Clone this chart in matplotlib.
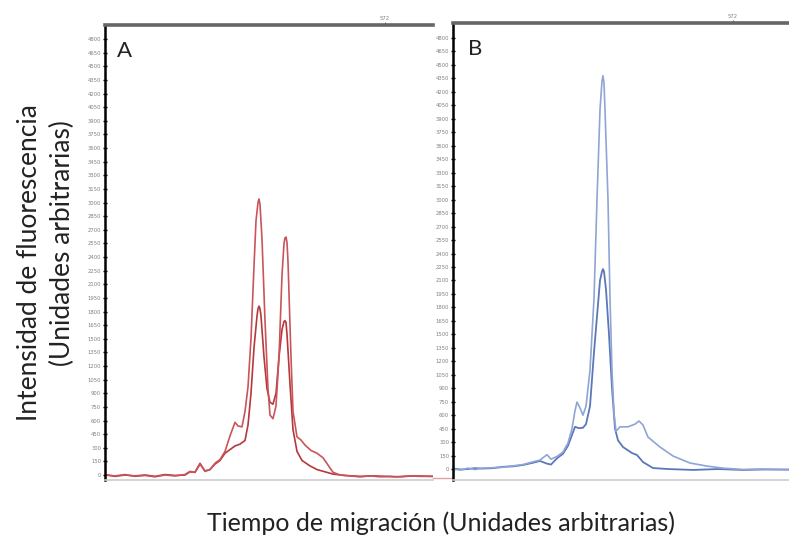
import numpy as np
import matplotlib
matplotlib.use('Agg')
import matplotlib.pyplot as plt

# Panel A (red) - migration time (arbitrary units) and fluorescence intensity
a_tall_t = [0, 10, 20, 30, 40, 50, 60, 70, 80, 85, 90, 95, 100, 105, 110, 115, 120,
            125, 130, 133, 137, 140, 143, 146, 149, 151, 153, 154, 155, 157, 160, 163, 165,
            168, 171, 174, 177, 179, 180, 181, 182, 183, 186, 188, 192, 196, 200, 206, 212,
            218, 223, 228, 235, 245, 255, 265, 275, 285, 295, 305, 315, 328]
a_tall_y = [0, -10, 5, -15, -5, -20, 0, -10, 5, 40, 30, 130, 40, 60, 130, 170, 260,
            430, 580, 540, 530, 700, 970, 1500, 2300, 2800, 3000, 3040, 2980, 2600, 1700, 950, 660,
            620, 760, 1300, 2200, 2550, 2610, 2620, 2560, 2350, 1300, 700, 420, 385, 330, 270, 240,
            190, 110, 30, 0, -10, -20, -10, -20, -15, -20, -10, -15, -15]

a_short_t = [0, 10, 20, 30, 40, 50, 60, 70, 80, 85, 90, 95, 100, 105, 110, 115, 120,
             125, 130, 135, 140, 143, 146, 149, 152, 153, 154, 155, 156, 159, 162, 165, 168,
             171, 174, 177, 179, 180, 181, 182, 185, 188, 192, 197, 205, 212, 220, 228, 240,
             255, 270, 290, 310, 328]
a_short_y = [5, -15, 0, -10, 0, -15, 5, -5, 0, 35, 30, 120, 45, 60, 120, 160, 240,
             280, 320, 340, 380, 550, 900, 1400, 1750, 1830, 1860, 1830, 1750, 1300, 950, 800, 780,
             900, 1300, 1600, 1690, 1700, 1680, 1550, 1000, 500, 260, 160, 100, 60, 35, 10, -5,
             -15, -10, -20, -10, -15]

# Panel B (blue)
b_tall_t = [0, 8, 15, 22, 30, 40, 50, 60, 70, 80, 87, 94, 98, 104, 110, 115, 119,
            122, 124, 127, 130, 133, 137, 141, 144, 147, 149, 150, 151, 152, 155, 157, 159,
            161, 163, 167, 175, 182, 186, 190, 195, 207, 220, 237, 254, 270, 290,
            310, 336]
b_tall_y = [0, -10, 10, -5, 10, 15, 20, 35, 50, 80, 100, 160, 110, 140, 190, 290, 450,
            650, 746, 680, 600, 700, 1100, 1900, 3000, 4000, 4320, 4380, 4300, 4000, 3000, 1900, 1100,
            620, 420, 470, 470, 500, 535, 490, 356, 245, 145, 67, 33, 10, -5,
            0, -10]

b_short_t = [0, 8, 15, 22, 30, 40, 50, 60, 70, 80, 87, 94, 98, 104, 110, 115, 119,
             122, 126, 130, 133, 137, 141, 144, 147, 149, 150, 151, 153, 156, 159, 162, 165,
             170, 179, 184, 190, 200, 215, 240, 265, 290, 310, 336]
b_short_y = [5, -5, 0, 10, 5, 10, 25, 30, 45, 70, 90, 60, 50, 120, 170, 260, 380,
             470, 455, 460, 500, 700, 1300, 1700, 2100, 2200, 2227, 2200, 2000, 1500, 900, 450, 320,
             245, 178, 156, 78, 11, 0, -10, 0, -10, -5, -5]

y_ticks = np.arange(0, 4801, 150)
top_tick = 280
top_tick_label = '572'

fig = plt.figure(figsize=(7.89, 5.38), dpi=100)


def setup_panel(ax, ylim, xmax, letter, letter_x):
    ax.set_xlim(0, xmax)
    ax.set_ylim(*ylim)
    ax.spines['right'].set_visible(False)
    ax.spines['left'].set_color('black')
    ax.spines['left'].set_linewidth(1.8)
    ax.spines['top'].set_color('#666666')
    ax.spines['top'].set_linewidth(2.6)
    ax.spines['bottom'].set_color('#cccccc')
    ax.spines['bottom'].set_linewidth(1.2)
    ax.set_yticks(y_ticks)
    ax.set_yticklabels([str(v) for v in y_ticks])
    ax.tick_params(axis='y', direction='inout', length=2.5, width=1.0,
                   labelsize=3.8, labelcolor='#808080', pad=1.5)
    ax.xaxis.set_ticks_position('top')
    ax.set_xticks([top_tick])
    ax.set_xticklabels([top_tick_label])
    ax.tick_params(axis='x', direction='out', length=2, width=0.8, color='#666666',
                   labelsize=3.8, labelcolor='#808080', pad=1)
    ax.text(letter_x, 0.965, letter, transform=ax.transAxes, va='top', ha='left',
            fontsize=16, family='Lato', color='#222222')


# Panel A
ax1 = fig.add_axes([105/789, 1 - 480/538, 328/789, 455/538])
setup_panel(ax1, (-55, 4955), 328, 'A', 0.035)
ax1.plot(a_short_t, a_short_y, color='#b4383c', lw=1.2)
ax1.plot(a_tall_t, a_tall_y, color='#c9555a', lw=1.2)
# baseline trailing past the panel
ax1.plot([1.0, 1.06], [0.005, 0.005], transform=ax1.transAxes, color='#e3a0a2',
         lw=1.0, clip_on=False)

# Panel B
ax2 = fig.add_axes([453/789, 1 - 480/538, 336/789, 457/538])
setup_panel(ax2, (-122, 4967), 336, 'B', 0.045)
ax2.plot(b_short_t, b_short_y, color='#5a78b8', lw=1.3)
ax2.plot(b_tall_t, b_tall_y, color='#8fa5d5', lw=1.2)

# Axis titles
fig.text(30/789, 1 - 263/538, 'Intensidad de fluorescencia', rotation=90,
         ha='center', va='center', fontsize=19, family='Lato', color='#222222')
fig.text(62/789, 1 - 243/538, '(Unidades arbitrarias)', rotation=90,
         ha='center', va='center', fontsize=19, family='Lato', color='#222222')
fig.text(441/789, 1 - 523/538, 'Tiempo de migración (Unidades arbitrarias)',
         ha='center', va='center', fontsize=18, family='Lato', color='#222222')

fig.savefig('out.png', dpi=100, facecolor='w')
